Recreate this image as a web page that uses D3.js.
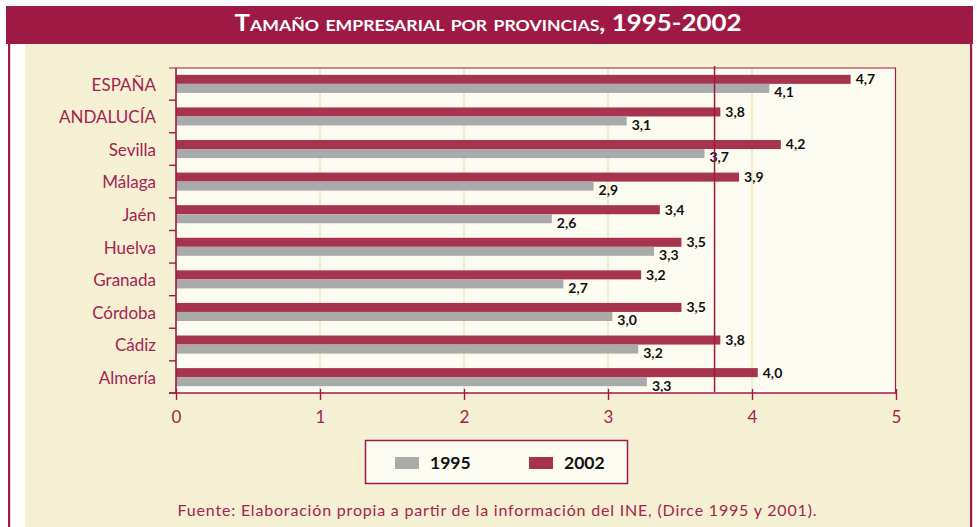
<!DOCTYPE html>
<html><head><meta charset="utf-8">
<script src="https://cdn.jsdelivr.net/npm/d3@7"></script>
<style>html,body{margin:0;padding:0;background:#fff;}svg{display:block;}</style>
</head><body>
<svg id="c" width="977" height="527"></svg>
<script>
const categories = ["ESPAÑA","ANDALUCÍA","Sevilla","Málaga","Jaén","Huelva","Granada","Córdoba","Cádiz","Almería"];
const values1995 = [4.12,3.13,3.67,2.90,2.61,3.32,2.69,3.03,3.21,3.27];
const values2002 = [4.685,3.78,4.20,3.91,3.36,3.51,3.23,3.51,3.78,4.04];
const seriesNames = ["1995","2002"];
const xTicks = [0,1,2,3,4,5];
const averageLine = 3.74;
const title = "Tamaño empresarial por provincias, 1995-2002";
const source = "Fuente: Elaboración propia a partir de la información del INE, (Dirce 1995 y 2001).";

const crimson = "#9e1a45", txt = "#a3244f", barRed = "#a6344e", barGray = "#aaaaaa";
const cream = "#f5f0d4", plotBg = "#fcfbf1", grid = "#efe6b4";
const svg = d3.select("#c");
const font = "Lato, 'Open Sans', sans-serif";

// frame
svg.append("rect").attr("x",0).attr("y",0).attr("width",977).attr("height",527).attr("fill","#fff");
svg.append("rect").attr("x",25).attr("y",44).attr("width",946).attr("height",483).attr("fill",cream);
svg.append("rect").attr("x",8).attr("y",40).attr("width",2.2).attr("height",487).attr("fill",crimson);
svg.append("rect").attr("x",970).attr("y",40).attr("width",2.2).attr("height",487).attr("fill",crimson);
svg.append("rect").attr("x",6).attr("y",6).attr("width",967).attr("height",38).attr("fill",crimson);
svg.append("text").attr("x",488).attr("y",31).attr("text-anchor","middle")
  .attr("fill","#fff").attr("font-family",font).attr("font-weight",700).attr("font-size",22)
  .style("font-variant","small-caps").attr("textLength",507).attr("lengthAdjust","spacingAndGlyphs")
  .text(title);

const x = d3.scaleLinear().domain([0,5]).range([176,896]);
const y = d3.scaleBand().domain(categories).range([68,393]).paddingInner(0.446).paddingOuter(0.21);
const sub = d3.scaleBand().domain(["2002","1995"]).range([0,y.bandwidth()]);

svg.append("rect").attr("x",x(0)).attr("y",68).attr("width",x(5)-x(0)).attr("height",325).attr("fill",plotBg);
svg.append("g").selectAll("line").data(xTicks.slice(1,5)).join("line")
  .attr("x1",d=>x(d)).attr("x2",d=>x(d)).attr("y1",68).attr("y2",393)
  .attr("stroke",grid).attr("stroke-width",1.5);

const data = categories.map((c,i)=>({c, v1995:values1995[i], v2002:values2002[i]}));
const fmt = v => v.toFixed(1).replace(".",",");

const g = svg.append("g");
g.selectAll("rect.b02").data(data).join("rect").attr("class","b02")
  .attr("x",x(0)).attr("y",d=>y(d.c)+sub("2002")).attr("width",d=>x(d.v2002)-x(0)).attr("height",sub.bandwidth())
  .attr("fill",barRed);
g.selectAll("rect.b95").data(data).join("rect").attr("class","b95")
  .attr("x",x(0)).attr("y",d=>y(d.c)+sub("1995")).attr("width",d=>x(d.v1995)-x(0)).attr("height",sub.bandwidth())
  .attr("fill",barGray);

// average line
svg.append("line").attr("x1",x(averageLine)).attr("x2",x(averageLine)).attr("y1",66).attr("y2",392)
  .attr("stroke",crimson).attr("stroke-width",1.5);

// value labels
g.selectAll("text.l02").data(data).join("text").attr("class","l02")
  .attr("x",d=>x(d.v2002)+5).attr("y",d=>y(d.c)+sub("2002")+sub.bandwidth()/2)
  .attr("dy","0.35em").attr("font-family",font).attr("font-weight",700).attr("font-size",14).attr("fill","#111")
  .text(d=>fmt(d.v2002));
g.selectAll("text.l95").data(data).join("text").attr("class","l95")
  .attr("x",d=>x(d.v1995)+5).attr("y",d=>y(d.c)+sub("1995")+sub.bandwidth()/2+4)
  .attr("dy","0.35em").attr("font-family",font).attr("font-weight",700).attr("font-size",14).attr("fill","#111")
  .text(d=>fmt(d.v1995));

// plot border top/right
svg.append("line").attr("x1",169).attr("x2",896).attr("y1",68).attr("y2",68).attr("stroke",crimson).attr("stroke-width",1.2);
svg.append("line").attr("x1",895.5).attr("x2",895.5).attr("y1",68).attr("y2",393).attr("stroke",crimson).attr("stroke-width",1.2);

// left axis
const yAxisG = svg.append("g");
yAxisG.append("line").attr("x1",176).attr("x2",176).attr("y1",68).attr("y2",393).attr("stroke",crimson).attr("stroke-width",1.6);
const bounds = categories.map(c=>y(c)-y.step()*y.paddingInner()/2 ).concat([393]);
yAxisG.selectAll("line.t").data(bounds.slice(1)).join("line").attr("class","t")
  .attr("x1",169).attr("x2",176).attr("y1",d=>d).attr("y2",d=>d).attr("stroke",crimson).attr("stroke-width",1.4);
yAxisG.selectAll("text").data(categories).join("text")
  .attr("x",156).attr("y",d=>y(d)+y.bandwidth()/2).attr("dy","0.4em").attr("text-anchor","end")
  .attr("font-family",font).attr("font-size",17).attr("fill",txt).text(d=>d);

// bottom axis
const xAxis = d3.axisBottom(x).tickValues(xTicks).tickSize(7).tickPadding(11).tickFormat(d3.format("d"));
const xg = svg.append("g").attr("transform","translate(0,393)").call(xAxis);
xg.select(".domain").remove();
xg.append("line").attr("x1",169).attr("x2",896).attr("y1",0).attr("y2",0).attr("stroke",crimson).attr("stroke-width",1.6);
xg.selectAll(".tick line").attr("stroke",crimson).attr("stroke-width",1.4).attr("y1",-4);
xg.selectAll(".tick text").attr("fill",txt).attr("font-family",font).attr("font-size",17);

// legend
const lg = svg.append("g");
lg.append("rect").attr("x",365.5).attr("y",440.5).attr("width",262).attr("height",43)
  .attr("fill",plotBg).attr("stroke",crimson).attr("stroke-width",1.5);
const legendX = [395,529];
const legendColors = [barGray, barRed];
seriesNames.forEach((s,i)=>{
  lg.append("rect").attr("x",legendX[i]).attr("y",457).attr("width",24).attr("height",12).attr("fill",legendColors[i]);
  lg.append("text").attr("x",legendX[i]+35).attr("y",463).attr("dy","0.36em")
    .attr("font-family",font).attr("font-weight",700).attr("font-size",17.5).attr("fill","#111").text(s);
});

svg.append("text").attr("x",497).attr("y",510).attr("dy","0.35em").attr("text-anchor","middle")
  .attr("font-family",font).attr("font-size",16).attr("fill",txt)
  .attr("textLength",639).attr("lengthAdjust","spacing").text(source);
</script>
</body></html>
